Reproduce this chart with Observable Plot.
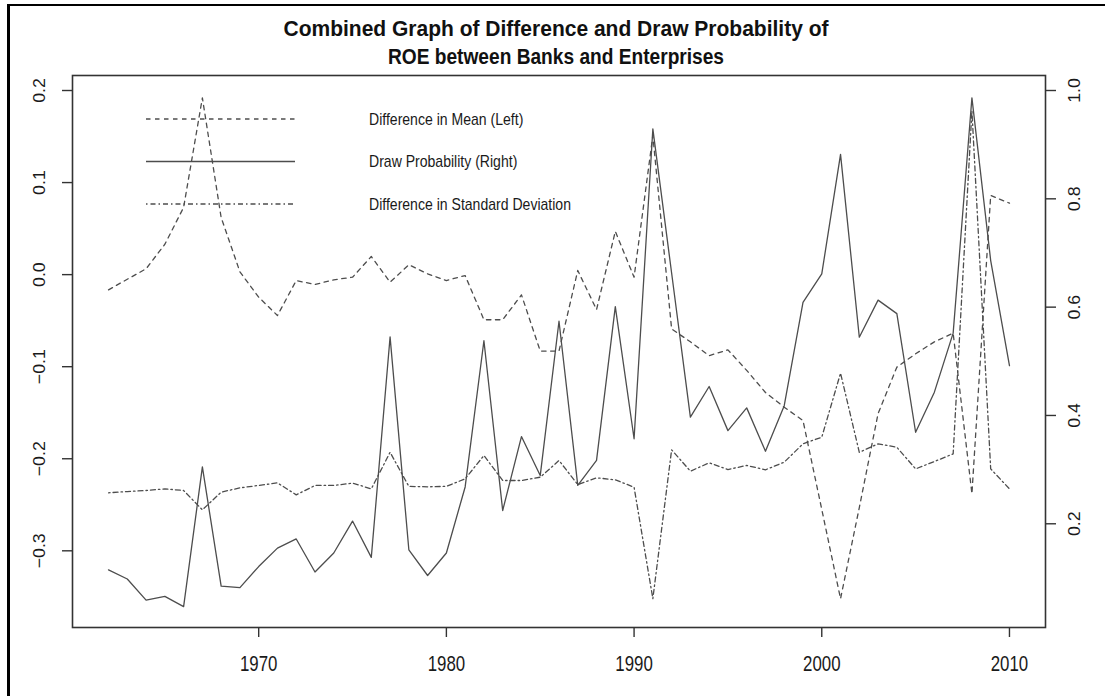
<!DOCTYPE html>
<html><head><meta charset="utf-8">
<script src="https://cdn.jsdelivr.net/npm/d3@7"></script>
<script src="https://cdn.jsdelivr.net/npm/@observablehq/plot@0.6"></script>
<style>
html,body{margin:0;padding:0;background:#fff;}
#wrap{position:relative;width:1105px;height:696px;overflow:hidden;font-family:"Liberation Sans",Arial,sans-serif;}
#chart,#overlay{position:absolute;left:0;top:0;}
</style>
</head><body>
<div id="wrap"><div id="chart"></div><div id="overlay"></div></div>
<script>
const years = [1962,1963,1964,1965,1966,1967,1968,1969,1970,1971,1972,1973,1974,1975,1976,1977,1978,1979,1980,1981,1982,1983,1984,1985,1986,1987,1988,1989,1990,1991,1992,1993,1994,1995,1996,1997,1998,1999,2000,2001,2002,2003,2004,2005,2006,2007,2008,2009,2010];
const meanDiff = [-0.0165,-0.005,0.0063,0.033,0.073,0.192,0.062,0.003,-0.0245,-0.0444,-0.0064,-0.0107,-0.0056,-0.0028,0.0197,-0.0082,0.0107,0.0009,-0.0064,-0.001,-0.049,-0.049,-0.022,-0.083,-0.083,0.0045,-0.038,0.047,-0.0028,0.151,-0.059,-0.073,-0.088,-0.0817,-0.104,-0.128,-0.144,-0.1585,-0.255,-0.352,-0.253,-0.151,-0.1005,-0.086,-0.073,-0.0636,-0.238,0.086,0.0776];
const sdDiff = [-0.237,-0.2356,-0.2345,-0.2327,-0.2345,-0.2555,-0.2363,-0.2316,-0.229,-0.2262,-0.2392,-0.229,-0.229,-0.2265,-0.2327,-0.193,-0.23,-0.2305,-0.23,-0.2218,-0.1965,-0.2236,-0.2236,-0.22,-0.2019,-0.228,-0.2207,-0.2229,-0.2309,-0.352,-0.1903,-0.2135,-0.2045,-0.2117,-0.2073,-0.212,-0.2037,-0.1838,-0.1766,-0.107,-0.193,-0.1838,-0.1875,-0.211,-0.203,-0.1947,0.178,-0.211,-0.2327];
const drawProb = [0.115,0.098,0.059,0.066,0.047,0.305,0.085,0.082,0.121,0.155,0.172,0.111,0.146,0.205,0.138,0.545,0.152,0.1045,0.146,0.268,0.538,0.2245,0.361,0.289,0.574,0.271,0.317,0.601,0.357,0.929,0.663,0.397,0.4535,0.372,0.414,0.334,0.418,0.609,0.6615,0.882,0.5445,0.613,0.588,0.369,0.443,0.552,0.9865,0.686,0.492];
const xTicks = [1970,1980,1990,2000,2010];
const leftTicks = [-0.3,-0.2,-0.1,0,0.1,0.2];
const rightTicks = [0.2,0.4,0.6,0.8,1.0];
const titleLines = ["Combined Graph of Difference and Draw Probability of","ROE between Banks and Enterprises"];
const legendLabels = ["Difference in Mean (Left)","Draw Probability (Right)","Difference in Standard Deviation"];

const xDomain = [1960.08, 2011.92];
const leftDomain = [-0.3833, 0.2163];
const rightDomain = [0.0085, 1.0277];
const k = (leftDomain[1]-leftDomain[0])/(rightDomain[1]-rightDomain[0]);
const toLeft = p => leftDomain[0] + (p - rightDomain[0]) * k;
const fromLeft = v => rightDomain[0] + (v - leftDomain[0]) / k;

const rows = years.map((year, i) => ({year, mean: meanDiff[i], sd: sdDiff[i], prob: drawProb[i]}));
const fmt = d3.format(".1f");
const lineColor = "#4d4d4d";

const chart = Plot.plot({
  width: 1105, height: 696,
  marginLeft: 72, marginRight: 60, marginTop: 75, marginBottom: 69,
  x: {domain: xDomain},
  y: {domain: leftDomain},
  style: {fontFamily: "Liberation Sans, Arial, sans-serif", color: "#1a1a1a", background: "transparent"},
  marks: [
    Plot.line(rows, {x: "year", y: "mean", stroke: lineColor, strokeWidth: 1.3, strokeDasharray: "4.5,4.5"}),
    Plot.line(rows, {x: "year", y: d => toLeft(d.prob), stroke: lineColor, strokeWidth: 1.3}),
    Plot.line(rows, {x: "year", y: "sd", stroke: lineColor, strokeWidth: 1.3, strokeDasharray: "1.5,3,5,3"}),
    Plot.frame({stroke: "#333", strokeWidth: 1.6}),
    Plot.axisX(xTicks, {tickSize: 10, tickPadding: 17, tickFormat: d => String(d), fontSize: 22, stroke: "#333", strokeWidth: 1.4, label: null}),
    Plot.axisY(leftTicks, {anchor: "left", tickSize: 10, tickPadding: 16, tickRotate: -90, tickFormat: fmt, fontSize: 17, stroke: "#333", strokeWidth: 1.4, label: null}),
    Plot.axisY(rightTicks.map(toLeft), {anchor: "right", tickSize: 10, tickPadding: 13, tickRotate: -90, lineAnchor: "top", tickFormat: d => fmt(fromLeft(d)), fontSize: 17, stroke: "#333", strokeWidth: 1.4, label: null})
  ]
});
document.getElementById("chart").append(chart);

// squeeze/stretch texts so their lengths match the reference
function fitFactor(nodes, factor) {
  nodes.forEach(t => {
    const n = t.getComputedTextLength();
    t.setAttribute("textLength", n * factor);
    t.setAttribute("lengthAdjust", "spacingAndGlyphs");
  });
}
function fitTo(nodes, refNode, target) {
  fitFactor(nodes, target / refNode.getComputedTextLength());
}
// shift a text so the centre of its box sits on a given screen x (or y)
function centreX(t, cx) {
  const b = t.getBoundingClientRect();
  const d = cx - (b.left + b.right) / 2;
  t.setAttribute("transform", `translate(${d},0) ` + (t.getAttribute("transform") || ""));
}
function centreY(t, cy) {
  const b = t.getBoundingClientRect();
  const d = cy - (b.top + b.bottom) / 2;
  t.setAttribute("transform", `translate(0,${d}) ` + (t.getAttribute("transform") || ""));
}
const xl = [...chart.querySelectorAll('[aria-label="x-axis tick label"] text')];
fitTo(xl, xl[0], 37.5);
xl.forEach(t => centreY(t, 663));
const yGroups = [...chart.querySelectorAll('[aria-label="y-axis tick label"]')];
const ylAll = yGroups.flatMap(g => [...g.querySelectorAll("text")]);
fitTo(ylAll, ylAll[0], 35);
[...yGroups[0].querySelectorAll("text")].forEach(t => centreX(t, 39));
[...yGroups[1].querySelectorAll("text")].forEach(t => centreX(t, 1074));

// overlay: page border, title, legend
const ov = d3.select("#overlay").append("svg").attr("width", 1105).attr("height", 696)
  .style("font-family", "Liberation Sans, Arial, sans-serif");
ov.append("line").attr("x1", 7).attr("x2", 1105).attr("y1", 5).attr("y2", 5).attr("stroke", "#000").attr("stroke-width", 2);
ov.append("line").attr("x1", 8.5).attr("x2", 8.5).attr("y1", 4).attr("y2", 696).attr("stroke", "#000").attr("stroke-width", 3);

const titleWidths = [545, 336];
const titleSel = ov.selectAll("text.title").data(titleLines).join("text")
  .attr("class", "title")
  .attr("x", 556).attr("y", (d, i) => 36 + i * 28)
  .attr("text-anchor", "middle").attr("font-weight", "bold").attr("font-size", 22).attr("fill", "#111")
  .text(d => d);
titleSel.nodes().forEach((n, i) => fitTo([n], n, titleWidths[i]));

const legendDash = ["4.5,4.5", null, "1.5,3,5,3"];
const leg = ov.append("g");
legendLabels.forEach((lab, i) => {
  const y = 119 + i * 42.5;
  leg.append("line").attr("x1", 146).attr("x2", 295).attr("y1", y).attr("y2", y)
    .attr("stroke", lineColor).attr("stroke-width", 1.3)
    .attr("stroke-dasharray", legendDash[i]);
  leg.append("text").attr("x", 369).attr("y", y).attr("dy", "0.35em")
    .attr("font-size", 17).attr("fill", "#1a1a1a").text(lab);
});
const lt = leg.selectAll("text").nodes();
fitTo(lt, lt[2], 202);
</script>
</body></html>
